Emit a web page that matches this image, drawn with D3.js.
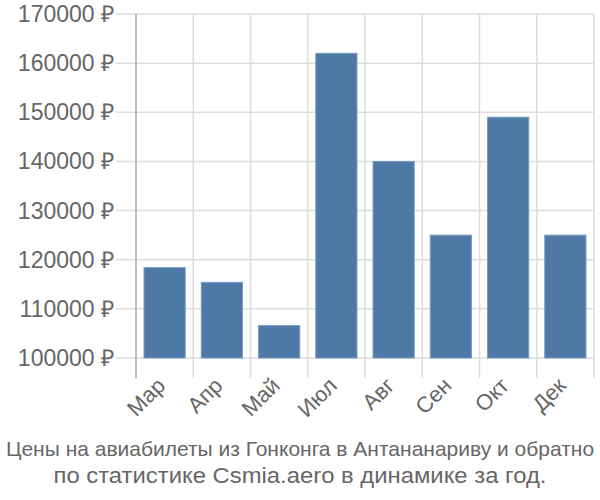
<!DOCTYPE html>
<html><head><meta charset="utf-8">
<script src="https://cdn.jsdelivr.net/npm/d3@7"></script>
<style>body{margin:0;background:#fff;} text{font-family:"Liberation Sans",Arial,sans-serif;fill:#666;}</style>
</head><body><svg id="c" width="600" height="500"></svg>
<script>
const categories = ["Мар","Апр","Май","Июл","Авг","Сен","Окт","Дек"];
const prices = [118400,115400,106600,162000,140000,125000,149000,125000];
const yTicks = [100000,110000,120000,130000,140000,150000,160000,170000];
const titleLines = ["Цены на авиабилеты из Гонконга в Антананариву и обратно","по статистике Csmia.aero в динамике за год."];

const svg = d3.select("#c");
const m = {l:136, r:594, t:14, b:358};
const x = d3.scaleBand().domain(categories).range([m.l, m.r]).paddingInner(0.28).paddingOuter(0.14);
const y = d3.scaleLinear().domain([100000,170000]).range([m.b, m.t]);

// horizontal grid
svg.append("g").selectAll("line").data(yTicks).join("line")
  .attr("x1", m.l-20).attr("x2", m.r).attr("y1", d=>y(d)).attr("y2", d=>y(d))
  .attr("stroke","#ddd").attr("stroke-width",1.5);
// vertical grid (band boundaries)
const bounds = categories.map(c=>x(c)-x.step()*x.paddingInner()/2).concat([m.r]);
svg.append("g").selectAll("line").data(bounds.slice(1)).join("line")
  .attr("x1", d=>d).attr("x2", d=>d).attr("y1", m.t).attr("y2", m.b+20)
  .attr("stroke","#ddd").attr("stroke-width",1.5);
// y axis line
svg.append("line").attr("x1",m.l).attr("x2",m.l).attr("y1",m.t).attr("y2",m.b+20)
  .attr("stroke","#aaa").attr("stroke-width",1.5);

// bars
svg.append("g").selectAll("rect").data(prices).join("rect")
  .attr("x",(d,i)=>x(categories[i])).attr("width",x.bandwidth())
  .attr("y",d=>y(d)).attr("height",d=>y(100000)-y(d))
  .attr("fill","#4e79a7").attr("stroke","#7a9cc4").attr("stroke-width",1);

// y labels
svg.append("g").selectAll("text").data(yTicks).join("text")
  .attr("x", m.l-22).attr("y", d=>y(d)).attr("dy","0.35em")
  .attr("text-anchor","end").style("font-size","23px")
  .text(d=>d+" ₽");

// x labels
svg.append("g").selectAll("text").data(categories).join("text")
  .attr("transform", d=>`translate(${x(d)+x.bandwidth()/2+2},387) rotate(-45)`)
  .attr("text-anchor","end").style("font-size","22px")
  .text(d=>d);

// title
const tSize = [21, 22];
svg.append("g").selectAll("text").data(titleLines).join("text")
  .attr("x",300).attr("y",(d,i)=>456+i*27).attr("text-anchor","middle")
  .each(function(d,i){ if(i===1) d3.select(this).attr("textLength",493).attr("lengthAdjust","spacingAndGlyphs"); })
  .style("font-size",(d,i)=>tSize[i]+"px").text(d=>d);
</script></body></html>
